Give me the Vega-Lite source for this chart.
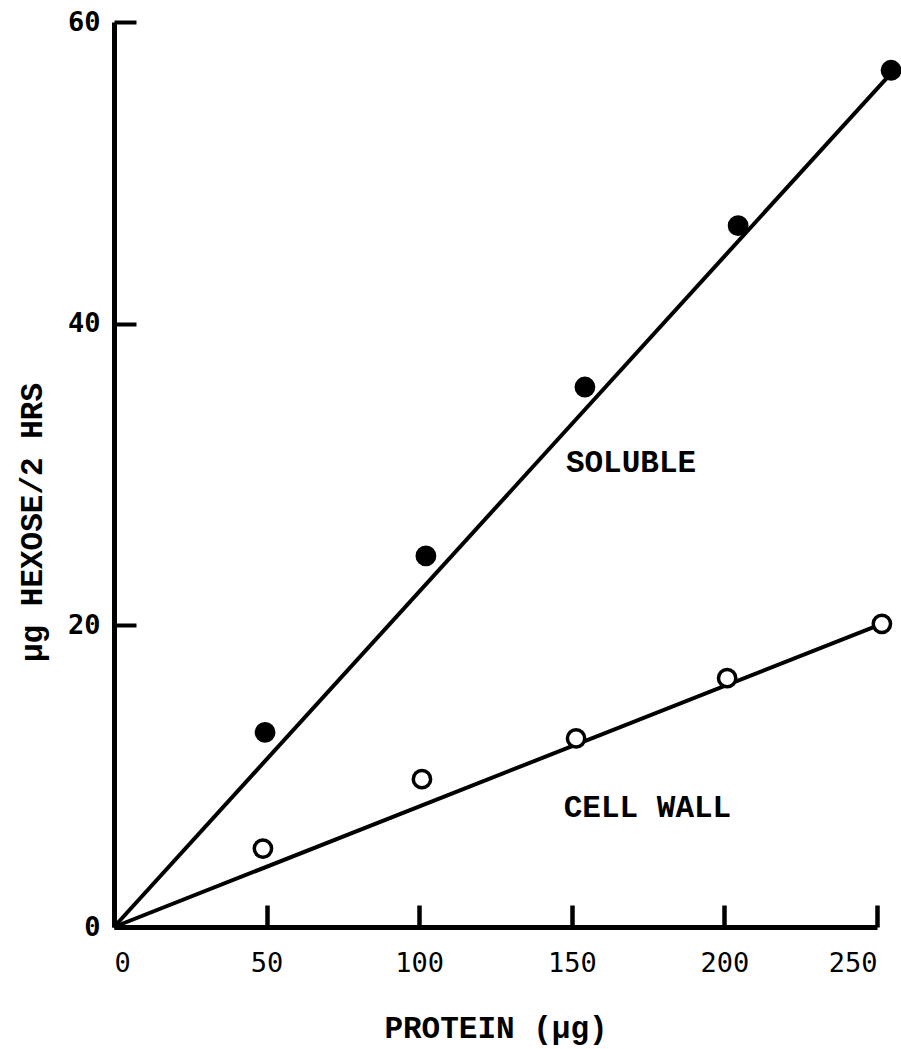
{
  "$schema": "https://vega.github.io/schema/vega-lite/v6.json",
  "width": 763,
  "height": 905,
  "autosize": {"type": "none"},
  "padding": {"left": 114, "top": 22, "right": 24, "bottom": 122},
  "background": "white",
  "config": {"view": {"stroke": null}},
  "datasets": {
    "points": [
      {"fraction": "SOLUBLE", "protein": 49.5, "hexose": 12.9},
      {"fraction": "SOLUBLE", "protein": 102.2, "hexose": 24.6},
      {"fraction": "SOLUBLE", "protein": 154.3, "hexose": 35.8},
      {"fraction": "SOLUBLE", "protein": 204.5, "hexose": 46.5},
      {"fraction": "SOLUBLE", "protein": 254.6, "hexose": 56.8},
      {"fraction": "CELL WALL", "protein": 48.8, "hexose": 5.2},
      {"fraction": "CELL WALL", "protein": 100.9, "hexose": 9.8},
      {"fraction": "CELL WALL", "protein": 151.4, "hexose": 12.5},
      {"fraction": "CELL WALL", "protein": 200.9, "hexose": 16.5},
      {"fraction": "CELL WALL", "protein": 251.6, "hexose": 20.1}
    ],
    "lines": [
      {"fraction": "SOLUBLE", "protein": 0, "hexose": 0},
      {"fraction": "SOLUBLE", "protein": 254.6, "hexose": 56.6},
      {"fraction": "CELL WALL", "protein": 0, "hexose": 0},
      {"fraction": "CELL WALL", "protein": 251.6, "hexose": 20.1}
    ],
    "labels": [
      {"label": "SOLUBLE", "protein": 169.4, "hexose": 30.17},
      {"label": "CELL WALL", "protein": 174.8, "hexose": 7.3}
    ]
  },
  "layer": [
    {
      "data": {"name": "lines"},
      "mark": {"type": "line", "color": "black", "strokeWidth": 4, "clip": false},
      "encoding": {
        "x": {
          "field": "protein", "type": "quantitative",
          "scale": {"domain": [0, 250], "nice": false},
          "axis": {
            "values": [0, 50, 100, 150, 200, 250],
            "grid": false,
            "domainColor": "black", "domainWidth": 5,
            "tickColor": "black", "tickWidth": 4.5, "tickSize": -22,
            "labelFont": "DejaVu Sans Mono", "labelFontSize": 27, "labelColor": "black",
            "labelPadding": 45,
            "title": "PROTEIN (μg)",
            "titleFont": "Liberation Mono", "titleFontSize": 31, "titleFontWeight": "bold",
            "titleColor": "black", "titleBaseline": "alphabetic", "titleY": 110
          }
        },
        "y": {
          "field": "hexose", "type": "quantitative",
          "scale": {"domain": [0, 60], "nice": false},
          "axis": {
            "values": [0, 20, 40, 60],
            "grid": false,
            "domainColor": "black", "domainWidth": 5,
            "tickColor": "black", "tickWidth": 4, "tickSize": -22,
            "labelFont": "DejaVu Sans Mono", "labelFontSize": 27, "labelFontWeight": "bold", "labelColor": "black",
            "labelPadding": 36,
            "title": "μg HEXOSE/2 HRS",
            "titleFont": "Liberation Mono", "titleFontSize": 31, "titleFontWeight": "bold",
            "titleColor": "black", "titleAngle": -90, "titleBaseline": "alphabetic", "titleAlign": "center",
            "titleX": -73, "titleY": 500
          }
        },
        "detail": {"field": "fraction"}
      }
    },
    {
      "data": {"name": "points"},
      "mark": {"type": "point", "shape": "circle", "filled": false, "stroke": "black", "strokeWidth": 3.5, "opacity": 1, "clip": false},
      "encoding": {
        "x": {"field": "protein", "type": "quantitative"},
        "y": {"field": "hexose", "type": "quantitative"},
        "fill": {
          "field": "fraction", "type": "nominal",
          "scale": {"domain": ["SOLUBLE", "CELL WALL"], "range": ["black", "white"]},
          "legend": null
        },
        "size": {"value": 300}
      }
    },
    {
      "data": {"name": "labels"},
      "mark": {"type": "text", "font": "Liberation Mono", "fontSize": 31, "fontWeight": "bold", "color": "black", "align": "center", "baseline": "alphabetic"},
      "encoding": {
        "x": {"field": "protein", "type": "quantitative"},
        "y": {"field": "hexose", "type": "quantitative"},
        "text": {"field": "label"}
      }
    }
  ]
}
